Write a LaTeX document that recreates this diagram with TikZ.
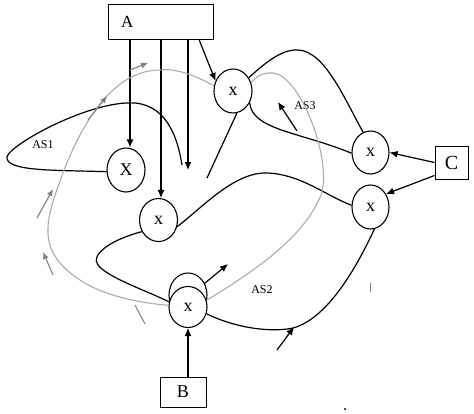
\documentclass[tikz,border=0pt]{standalone}
\usepackage{fontspec}
\setmainfont{Liberation Serif}
\usetikzlibrary{arrows.meta,calc,shapes.geometric}

\begin{document}
\begin{tikzpicture}[
  x=1pt,y=-1pt,
  >={Latex[length=8pt,width=7pt]},
  unit/.style={ellipse,draw,line width=1.1pt,minimum width=38pt,minimum height=44pt,
    inner sep=0pt,fill=white,font=\fontsize{18}{20}\selectfont},
  block/.style={draw,line width=1pt,inner sep=0pt},
  route/.style={line width=1.2pt},
  trail/.style={draw=gray!65,line width=1.1pt},
  hint/.style={->,gray,line width=1.1pt,>={Latex[length=7pt,width=6pt]}},
  tag/.style={font=\fontsize{12}{14}\selectfont}
]
  \useasboundingbox (0,0) rectangle (474,413);

  % sources
  \node[block,minimum height=35pt,text width=79pt,inner xsep=13pt,align=left,
    font=\fontsize{17}{20}\selectfont] (A) at (160.5,21.5) {A};
  \node[block,minimum width=46pt,minimum height=30pt,
    font=\fontsize{18}{20}\selectfont] (B) at (183,392) {\raisebox{-3pt}{B}};
  \node[block,minimum width=33pt,minimum height=33pt,
    font=\fontsize{20}{22}\selectfont] (C) at (451.5,162.5) {C};

  % stations
  \node[unit] (X1) at (126,170) {X};
  \node[unit,minimum height=43pt] (x2) at (158.5,220) {x};
  \node[unit] (x3) at (233,91) {x};
  \node[unit,minimum width=37pt,minimum height=43pt] (x4) at (370.5,152.5) {x};
  \node[unit,minimum width=37pt] (x5) at (370.5,207) {x};
  \node[unit] (x6ring) at (188,295) {};
  \node[unit,minimum height=41pt] (x6) at (188,307) {x};

  % feeds from A, B, C
  \coordinate (a1) at ($(X1.north)+(4,0)$);
  \coordinate (a2) at ($(x2.north)+(2.5,0)$);
  \coordinate (a3) at (188,170);
  \draw[->,route] (a1 |- A.south) -- (a1);
  \draw[->,route] (a2 |- A.south) -- (a2);
  \draw[->,route] (a3 |- A.south) -- (a3);
  \draw[->,route] ($(A.south)+(38.5,0)$) -- (x3.150);
  \draw[->,route] (C.west) -- (x4.east);
  \draw[->,route] ($(C.south west)+(0,-4)$) -- (x5.40);
  \draw[->,route] (B.north -| x6.south) -- (x6.south);
  \coordinate (o6) at (228,264);
  \draw[->,route] (x6ring.35) -- (o6);

  % AS1
  \coordinate (e1) at (182,165);
  \draw[route] (X1.185) .. controls (60,170) and (5,172) .. (7,157)
    .. controls (9,145) and (90,100) .. (135,103)
    .. controls (168,106) and (178,140) .. (e1);
  \node[tag] (as1) at (43,145) {AS1};

  % AS3
  \draw[route] (x3.40) .. controls (270,58) and (285,49) .. (298,50)
    .. controls (325,51) and (345,100) .. (x4.110);
  \draw[route] (x3.-35) .. controls (252,130) and (300,132) .. (x4.182);
  \coordinate (e3) at (207,178);
  \draw[route] (x3.-80) -- (e3);
  \coordinate (s3a) at (297,131);
  \coordinate (s3b) at (278,102);
  \draw[->,route] (s3a) -- (s3b);
  \node[tag] (as3) at (305,106) {AS3};

  % AS2
  \draw[route] (x2.-20) .. controls (205,205) and (235,172) .. (267,173)
    .. controls (300,174) and (325,195) .. (x5.175);
  \draw[route] (x2.215) .. controls (110,240) and (90,255) .. (98,265)
    .. controls (108,278) and (150,292) .. (x6.165);
  \draw[route] (x6.-20) .. controls (240,330) and (275,332) .. (293,328)
    .. controls (330,318) and (360,260) .. (x5.-80);
  \coordinate (s2a) at (277,350);
  \coordinate (s2b) at (294,327);
  \draw[->,route] (s2a) -- (s2b);
  \node[tag] (as2) at (262,290) {AS2};

  % grey loop through x3 and x6
  \draw[trail] (x6.20) .. controls (260,268) and (305,235) .. (321,195)
    .. controls (333,160) and (300,75) .. (273,73)
    .. controls (262,72) and (255,78) .. (x3.25);
  \draw[trail] (x3.165) .. controls (195,75) and (175,68) .. (160,70)
    .. controls (110,70) and (75,130) .. (52,205)
    .. controls (42,240) and (50,260) .. (80,280)
    .. controls (104,296) and (140,303) .. (x6.175);

  % grey direction marks
  \foreach \i/\fx/\fy/\tx/\ty in {1/130/70/148/63, 2/88/120/107/96,
                                  3/37/218/53/189, 4/53/275/43/252}{
    \coordinate (g\i a) at (\fx,\fy);
    \coordinate (g\i b) at (\tx,\ty);
    \draw[hint] (g\i a) -- (g\i b);
  }
  \coordinate (t1a) at (135,305);
  \coordinate (t1b) at (145,324);
  \draw[gray!90,line width=1.1pt] (t1a) -- (t1b);
  \coordinate (t2a) at (370,283);
  \coordinate (t2b) at (370,292);
  \draw[gray,line width=0.8pt] (t2a) -- (t2b);
  \fill (345,409) circle (1.1pt);
\end{tikzpicture}
\end{document}
